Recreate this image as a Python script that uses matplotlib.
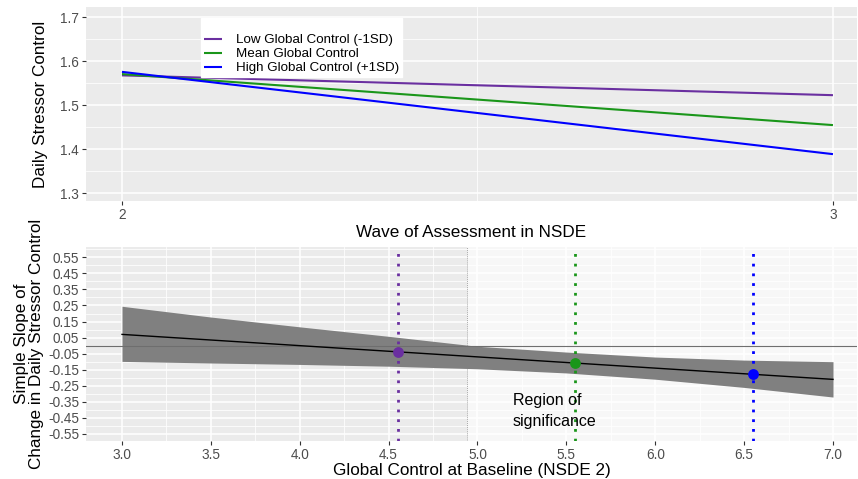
import matplotlib
matplotlib.use("Agg")
import matplotlib.pyplot as plt
from matplotlib.ticker import FixedLocator

plt.rcParams['font.family'] = ['Liberation Sans', 'DejaVu Sans']
plt.rcParams['axes.unicode_minus'] = False

# ---------------- data ----------------
waves = [2, 3]
low_gc = [1.568, 1.523]
mean_gc = [1.571, 1.455]
high_gc = [1.576, 1.389]
series_labels = ["Low Global Control (-1SD)", "Mean Global Control", "High Global Control (+1SD)"]
series_colors = ["#6A2FA0", "#1A961A", "#0000FF"]

mod_x = [3.0, 3.5, 4.0, 4.5, 5.0, 5.5, 6.0, 6.5, 7.0]
slope_est = [0.070, 0.035, 0.000, -0.035, -0.070, -0.105, -0.140, -0.175, -0.210]
slope_upper = [0.245, 0.178, 0.117, 0.058, -0.004, -0.040, -0.071, -0.090, -0.100]
slope_lower = [-0.098, -0.108, -0.117, -0.128, -0.144, -0.170, -0.209, -0.260, -0.320]

point_x = [4.55, 5.55, 6.55]
point_y = [-0.038, -0.108, -0.179]
jn_boundary = 4.94

slope_ticks = [0.55, 0.45, 0.35, 0.25, 0.15, 0.05, -0.05, -0.15, -0.25, -0.35, -0.45, -0.55]
mod_ticks = [3.0, 3.5, 4.0, 4.5, 5.0, 5.5, 6.0, 6.5, 7.0]

# ---------------- figure ----------------
W, H = 858, 479
fig = plt.figure(figsize=(W / 100, H / 100), dpi=100)

def px_axes(l, t, r, b):
    return fig.add_axes([l / W, (H - b) / H, (r - l) / W, (b - t) / H])

PANEL = "#EBEBEB"
TICKCOL = "#4D4D4D"

def style(ax):
    ax.set_facecolor(PANEL)
    for s in ax.spines.values():
        s.set_visible(False)
    ax.set_axisbelow(True)
    ax.grid(which='major', color='white', linewidth=1.1)
    ax.grid(which='minor', color='white', linewidth=0.55)
    ax.tick_params(which='major', length=3, width=0.8, color='#333333',
                   labelsize=9.8, labelcolor=TICKCOL, pad=2)
    ax.tick_params(which='minor', length=0)

# ---- top panel ----
ax1 = px_axes(86, 7, 857, 201)
style(ax1)
for ys, lab, c in zip([low_gc, mean_gc, high_gc], series_labels, series_colors):
    ax1.plot(waves, ys, color=c, linewidth=1.5, label=lab, solid_capstyle='butt')
ax1.set_xlim(1.9494, 3.0338)
ax1.set_ylim(1.2825, 1.7234)
ax1.xaxis.set_major_locator(FixedLocator([2, 3]))
ax1.set_xticklabels(["2", "3"])
ax1.xaxis.set_minor_locator(FixedLocator([2.5]))
ax1.yaxis.set_major_locator(FixedLocator([1.3, 1.4, 1.5, 1.6, 1.7]))
ax1.yaxis.set_minor_locator(FixedLocator([1.35, 1.45, 1.55, 1.65]))
ax1.set_xlabel("Wave of Assessment in NSDE", fontsize=12.3, labelpad=2)
ax1.set_ylabel("Daily Stressor Control", fontsize=12.3, labelpad=9)
leg = ax1.legend(loc='upper left', bbox_to_anchor=((201 - 86) / 771, 1 - (17.7 - 7) / 194),
                 fontsize=9.6, frameon=True, fancybox=False, facecolor='white',
                 edgecolor='white', framealpha=1, handlelength=1.4, handletextpad=1.0,
                 labelspacing=0.12, borderpad=0.2, borderaxespad=0,
                 title=" ", title_fontsize=8.5)

# ---- bottom panel ----
ax2 = px_axes(86, 247, 857, 441)
style(ax2)
ax2.set_xlim(2.7975, 7.135)
ax2.set_ylim(-0.5936, 0.614)
ax2.axvspan(jn_boundary, 7.135, color='#F7F7F7', zorder=0.2, linewidth=0)
ax2.axvline(jn_boundary, color='#A8A8A8', linewidth=0.7, linestyle=(0, (1, 1)), zorder=0.6)
ax2.fill_between(mod_x, slope_lower, slope_upper, color='#808080', linewidth=0, zorder=2)
ax2.axhline(0, color='#6E6E6E', linewidth=0.8, zorder=2.5)
ax2.plot(mod_x, slope_est, color='black', linewidth=1.0, zorder=3)
for px_, py_, c in zip(point_x, point_y, series_colors):
    ax2.axvline(px_, color=c, linewidth=2.0, linestyle=(0, (1, 2.5)),
                dash_capstyle='butt', zorder=3.5)
    ax2.plot([px_], [py_], 'o', color=c, markersize=7.8, markeredgewidth=0, zorder=4)
ax2.text(5.2, -0.404, "Region of\nsignificance", fontsize=11.5, ha='left', va='center',
         linespacing=1.5, color='black', zorder=5)
ax2.xaxis.set_major_locator(FixedLocator(mod_ticks))
ax2.set_xticklabels([f"{v:.1f}" for v in mod_ticks])
ax2.xaxis.set_minor_locator(FixedLocator([3.25, 3.75, 4.25, 4.75, 5.25, 5.75, 6.25, 6.75]))
ax2.yaxis.set_major_locator(FixedLocator(slope_ticks))
ax2.set_yticklabels([f"{v:.2f}" for v in slope_ticks])
ax2.yaxis.set_minor_locator(FixedLocator([0.6, 0.5, 0.4, 0.3, 0.2, 0.1, 0.0, -0.1, -0.2, -0.3, -0.4, -0.5]))
ax2.set_xlabel("Global Control at Baseline (NSDE 2)", fontsize=12.3, labelpad=1)
ax2.set_ylabel("Simple Slope of\nChange in Daily Stressor Control", fontsize=12.3,
               labelpad=3, linespacing=1.0)

fig.savefig("out.png", dpi=100, facecolor='white')
